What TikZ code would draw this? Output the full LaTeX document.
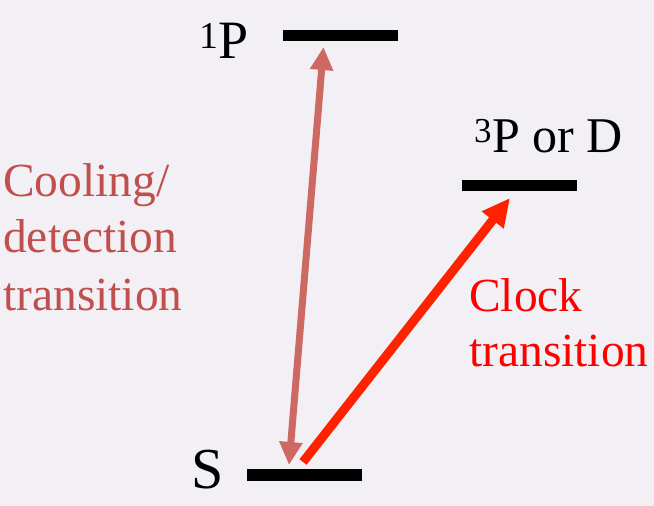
\documentclass[tikz,border=0pt]{standalone}
\usepackage{fontspec}
\setmainfont{Liberation Serif}
\newfontfamily\tms{Liberation Serif}
\usetikzlibrary{arrows.meta}
\definecolor{bg}{HTML}{F2F0F5}
\definecolor{coolcol}{HTML}{C0504D}
\definecolor{coolarrow}{HTML}{CD6862}
\definecolor{clockcol}{HTML}{FF0000}
\definecolor{clockarrow}{HTML}{FF2200}
\tikzset{
  level/.style={fill=black, inner sep=0pt, minimum height=11pt, minimum width=115pt},
  lbl/.style={inner sep=0pt, anchor=base west, font=\tms\fontsize{47.5}{57}\selectfont},
  biglbl/.style={inner sep=0pt, anchor=base west, font=\tms\fontsize{54}{60}\selectfont},
}
\begin{document}
\begin{tikzpicture}[x=1pt,y=-1pt]
\fill[bg] (0,0) rectangle (654,506);
\useasboundingbox (0,0) rectangle (654,506);
% levels
\node[level] (P1) at (340.5,35) {};
\node[level] (P3) at (519,185) {};
\node[level, minimum height=12pt] (S) at (304.5,475) {};
% labels
\node[biglbl] (P1lbl) at (199,58) {\textsuperscript{1}P};
\node[biglbl, font=\tms\fontsize{58}{60}\selectfont] (Slbl) at (191,488) {S};
\node[lbl, font=\tms\fontsize{50}{57}\selectfont] (P3lbl) at (474,152) {\textsuperscript{3}P or D};
\node[lbl, text=coolcol] (c1) at (3,196) {Cooling/};
\node[lbl, text=coolcol] (c2) at (3,252) {detection};
\node[lbl, text=coolcol] (c3) at (3,310) {transition};
\node[lbl, text=clockcol] (k1) at (469,311) {Clock};
\node[lbl, text=clockcol] (k2) at (469,366) {transition};
% arrow end points
\coordinate (coolLow) at (289,465);
\coordinate (coolHigh) at (323.5,47);
\coordinate (clockLow) at (303,462);
\coordinate (clockHigh) at (510,198);
\draw[coolarrow, line width=7pt, {Triangle[width=22pt,length=23pt]}-{Triangle[width=22pt,length=23pt]}] (coolLow) -- (coolHigh);
\draw[clockarrow, line width=9pt, -{Triangle[width=26pt,length=28pt]}] (clockLow) -- (clockHigh);
\end{tikzpicture}
\end{document}
